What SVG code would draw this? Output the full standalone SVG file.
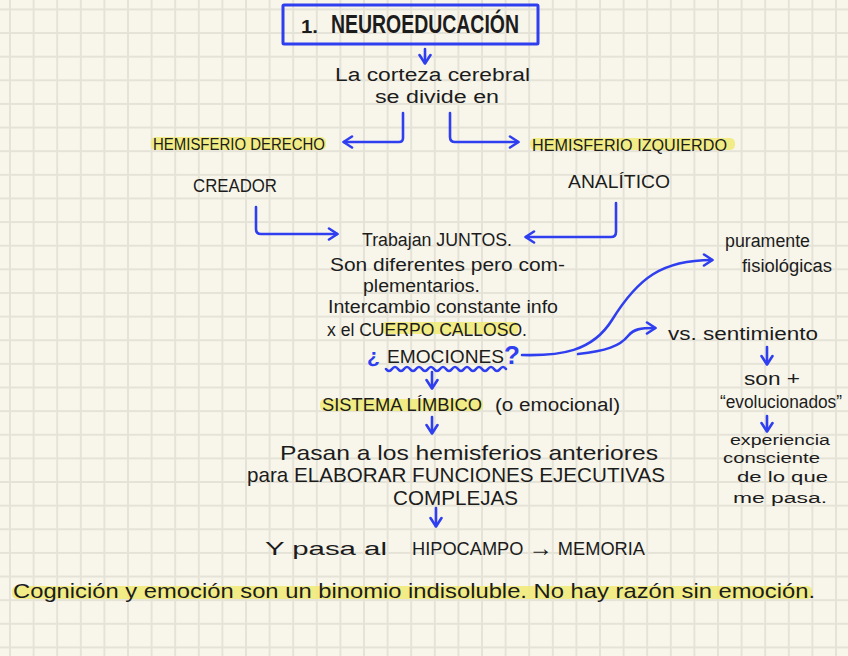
<svg xmlns="http://www.w3.org/2000/svg" width="848" height="656" viewBox="0 0 848 656">
<defs>
<pattern id="grid" x="-1.8" y="-2.4" width="23.6" height="23.63" patternUnits="userSpaceOnUse">
<path d="M11.8 0V23.63M0 11.8H23.6" stroke="#e5e2d7" stroke-width="2" fill="none"/>
</pattern>
<marker id="arr" viewBox="0 0 14 14" refX="11" refY="7" markerWidth="14" markerHeight="14" markerUnits="userSpaceOnUse" orient="auto">
<path d="M3 1.5L11.5 7L3 12.5" fill="none" stroke="#2f3ff0" stroke-width="2.6" stroke-linecap="round" stroke-linejoin="round"/>
</marker>
<style>
text{font-family:"Liberation Sans","DejaVu Sans",sans-serif;fill:#1c1c1c;}
.t{font-size:21px;}
.m{font-size:18px;}
.c{font-size:16px;}
.s{font-size:18px;}
.x{font-size:15.5px;}
.b{fill:#2f3ff0;}
.hl{fill:#f0ea74;opacity:0.85;}
.conn{fill:none;stroke:#2f3ff0;stroke-width:2.6;stroke-linecap:round;stroke-linejoin:round;}
</style>
</defs>
<rect width="848" height="656" fill="#f8f6eb"/>
<rect width="848" height="656" fill="url(#grid)"/>

<g id="title">
<rect x="283" y="5" width="255" height="39" fill="none" stroke="#2f3ff0" stroke-width="3" rx="1"/>
<text x="301" y="33" font-size="18" font-weight="bold" textLength="17" lengthAdjust="spacingAndGlyphs">1.</text>
<text x="331" y="33" font-size="25" font-weight="bold" textLength="188" lengthAdjust="spacingAndGlyphs">NEUROEDUCACIÓN</text>
</g>

<g id="corteza">
<text class="m" x="335" y="81" textLength="195" lengthAdjust="spacingAndGlyphs">La corteza cerebral</text>
<text class="m" x="375" y="103" textLength="124" lengthAdjust="spacingAndGlyphs">se divide en</text>
</g>

<g id="hem-derecho">
<rect class="hl" x="151" y="137" width="175" height="13" rx="5"/>
<text class="c" x="153" y="150" textLength="172" lengthAdjust="spacingAndGlyphs">HEMISFERIO DERECHO</text>
<text class="s" x="193" y="192" textLength="84" lengthAdjust="spacingAndGlyphs">CREADOR</text>
</g>

<g id="hem-izquierdo">
<rect class="hl" x="530" y="138" width="205" height="12" rx="5"/>
<text class="c" x="532" y="151" textLength="195" lengthAdjust="spacingAndGlyphs">HEMISFERIO IZQUIERDO</text>
<text class="s" x="568" y="188" textLength="102" lengthAdjust="spacingAndGlyphs">ANALÍTICO</text>
</g>

<g id="juntos">
<rect class="hl" x="382" y="322" width="136" height="12" rx="4"/>
<text class="m" x="362" y="246" textLength="150" lengthAdjust="spacingAndGlyphs">Trabajan JUNTOS.</text>
<text class="m" x="330" y="271" textLength="235" lengthAdjust="spacingAndGlyphs">Son diferentes pero com-</text>
<text class="m" x="363" y="292" textLength="117" lengthAdjust="spacingAndGlyphs">plementarios.</text>
<text class="m" x="328" y="313" textLength="230" lengthAdjust="spacingAndGlyphs">Intercambio constante info</text>
<text class="m" x="327" y="336" textLength="200" lengthAdjust="spacingAndGlyphs">x el CUERPO CALLOSO.</text>
</g>

<g id="emociones">
<text class="b" x="367" y="363" font-size="21" font-weight="bold">¿</text>
<text x="387" y="363" font-size="19" textLength="117" lengthAdjust="spacingAndGlyphs">EMOCIONES</text>
<text class="b" x="504" y="364" font-size="26" font-weight="bold">?</text>
<path class="conn" d="M386 369q3 4 6 0t6 0t6 0t6 0t6 0t6 0t6 0t6 0t6 0t6 0t6 0t6 0t6 0t6 0t6 0t6 0t6 0t6 0t6 0t6 0" stroke-width="2.2"/>
</g>

<g id="limbico">
<rect class="hl" x="320" y="399" width="163" height="12" rx="5"/>
<text class="s" x="322" y="411" textLength="160" lengthAdjust="spacingAndGlyphs">SISTEMA LÍMBICO</text>
<text class="s" x="495" y="411" textLength="125" lengthAdjust="spacingAndGlyphs">(o emocional)</text>
</g>

<g id="funciones">
<text class="t" x="280" y="460" textLength="378" lengthAdjust="spacingAndGlyphs">Pasan a los hemisferios anteriores</text>
<text class="t" x="247" y="482" textLength="418" lengthAdjust="spacingAndGlyphs">para ELABORAR FUNCIONES EJECUTIVAS</text>
<text class="t" x="393" y="505" textLength="125" lengthAdjust="spacingAndGlyphs">COMPLEJAS</text>
</g>

<g id="hipocampo">
<text class="m" x="265" y="555" textLength="122" lengthAdjust="spacingAndGlyphs">Y pasa al</text>
<text class="m" x="412" y="555" textLength="233" lengthAdjust="spacingAndGlyphs">HIPOCAMPO <tspan font-size="24" dy="1">→</tspan><tspan dy="-1"> MEMORIA</tspan></text>
</g>

<g id="fisiologicas">
<text class="s" x="725" y="247" textLength="85" lengthAdjust="spacingAndGlyphs">puramente</text>
<text class="s" x="742" y="272" textLength="90" lengthAdjust="spacingAndGlyphs">fisiológicas</text>
</g>

<g id="sentimiento">
<text class="s" x="668" y="340" textLength="150" lengthAdjust="spacingAndGlyphs">vs. sentimiento</text>
</g>

<g id="evolucionados">
<text class="s" x="744" y="385" textLength="56" lengthAdjust="spacingAndGlyphs">son +</text>
<text class="s" x="720" y="408" textLength="122" lengthAdjust="spacingAndGlyphs">“evolucionados”</text>
</g>

<g id="experiencia">
<text class="x" x="730" y="445" textLength="100" lengthAdjust="spacingAndGlyphs">experiencia</text>
<text class="x" x="723" y="463" textLength="97" lengthAdjust="spacingAndGlyphs">consciente</text>
<text class="x" x="737" y="482" textLength="91" lengthAdjust="spacingAndGlyphs">de lo que</text>
<text class="x" x="733" y="503" textLength="94" lengthAdjust="spacingAndGlyphs">me pasa.</text>
</g>

<g id="conclusion">
<rect class="hl" x="12" y="586" width="800" height="13" rx="5"/>
<text class="t" x="13" y="598" textLength="802" lengthAdjust="spacingAndGlyphs">Cognición y emoción son un binomio indisoluble. No hay razón sin emoción.</text>
</g>

<g id="connectors">
<path class="conn" d="M425 49V63" marker-end="url(#arr)"/>
<path class="conn" d="M403 113V138Q403 142 399 142H344" marker-end="url(#arr)"/>
<path class="conn" d="M450 113V137Q450 142 455 142H518" marker-end="url(#arr)"/>
<path class="conn" d="M256 207V229Q256 234 261 234H337" marker-end="url(#arr)"/>
<path class="conn" d="M616 203V232Q616 237 611 237H526" marker-end="url(#arr)"/>
<path class="conn" d="M432 372V388" marker-end="url(#arr)"/>
<path class="conn" d="M432 417V433" marker-end="url(#arr)"/>
<path class="conn" d="M436 508V526" marker-end="url(#arr)"/>
<path class="conn" d="M522 355C560 356 592 352 612 320C638 278 662 260 712 260" marker-end="url(#arr)"/>
<path class="conn" d="M578 354C606 351 620 346 628 336C634 329 640 328 655 328" marker-end="url(#arr)"/>
<path class="conn" d="M767 347V364" marker-end="url(#arr)"/>
<path class="conn" d="M767 416V431" marker-end="url(#arr)"/>
</g>
</svg>
